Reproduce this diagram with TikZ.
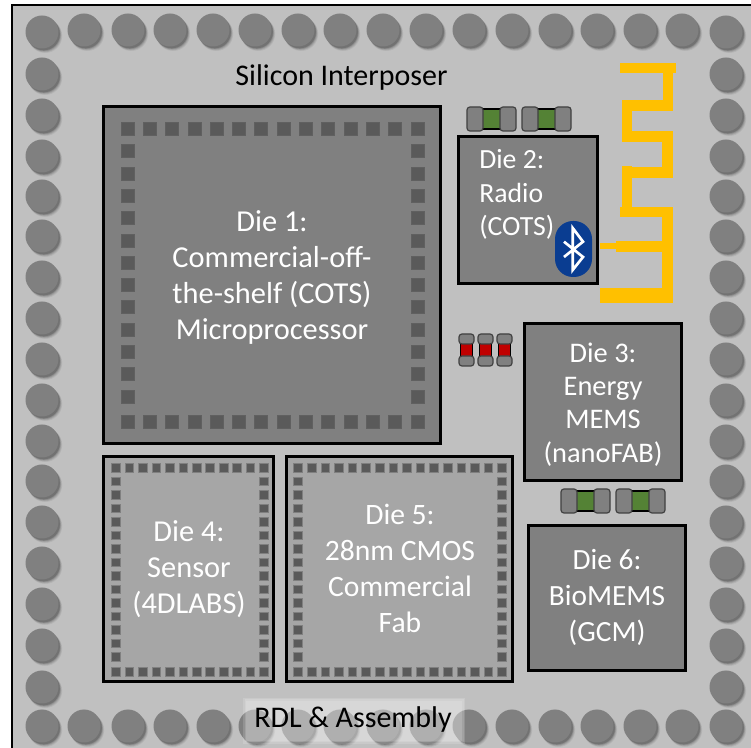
\documentclass[tikz,border=0pt]{standalone}
\usepackage{fontspec}
\setmainfont{Carlito}
\definecolor{substrate}{HTML}{C0C0C0}
\definecolor{bump}{HTML}{808080}
\definecolor{dark}{HTML}{808080}
\definecolor{light}{HTML}{A6A6A6}
\definecolor{padc}{HTML}{5A5A5A}
\definecolor{ant}{HTML}{FFC000}
\definecolor{btblue}{HTML}{0A3D91}
\definecolor{capgreen}{HTML}{548235}
\definecolor{capred}{HTML}{C00000}
\tikzset{
  diebox/.style={draw=black,line width=1.9pt},
  pad/.style={fill=padc,draw=#1,line width=.6pt},
  dietext/.style={text=white,align=center,inner sep=0pt,font=\fontsize{22.8}{27}\selectfont},
  captext/.style={text=black,inner sep=0pt,font=\fontsize{22.5}{24}\selectfont},
  capend/.style={fill=bump,draw=black!75,line width=.9pt,rounded corners=2.2pt},
  capmid/.style={draw=black,line width=.8pt}
}
\newcommand{\bumpat}[2]{%
  \foreach \dd/\rr/\op in {4/17/.05,3.5/16.8/.07,3/16.6/.09,2.5/16.4/.12,2/16.3/.15}{\fill[black,opacity=\op] (#1+\dd*.8,#2+\dd) circle[radius=\rr];}
  \fill[bump] (#1,#2) circle[radius=16.5];}
\newcommand{\padsq}[4]{\filldraw[pad=#4] (#1-#3,#2-#3) rectangle (#1+#3,#2+#3);}
\newcommand{\padring}[9]{%
  \foreach \i in {0,...,#3}{\padsq{#1+#2*\i}{#4}{#8}{#9}\padsq{#1+#2*\i}{#5}{#8}{#9}}
  \foreach \j in {1,...,#7}{\padsq{#1}{#4+#6*\j}{#8}{#9}\padsq{#1+#2*#3}{#4+#6*\j}{#8}{#9}}}
\newcommand{\hcap}[3]{%
  \filldraw[capmid,fill=capgreen] (#1+15,#2+2) rectangle (#1+34,#2+22);
  \filldraw[capend] (#1,#2) rectangle (#1+16,#2+24);
  \filldraw[capend] (#1+33,#2) rectangle (#1+49,#2+24);}
\newcommand{\vcap}[2]{%
  \filldraw[capmid,fill=capred] (#1+1.5,#2+9) rectangle (#1+13.5,#2+23);
  \filldraw[capend] (#1,#2) rectangle (#1+15,#2+10);
  \filldraw[capend] (#1,#2+22) rectangle (#1+15,#2+32);}
\begin{document}
\begin{tikzpicture}[x=0.75pt,y=-0.75pt]
\useasboundingbox (0,0) rectangle (751,748);
\clip (0,0) rectangle (751,748);
\fill[white] (0,0) rectangle (751,748);
\filldraw[fill=substrate,draw=black,line width=1.9pt] (12,5) rectangle (770,770);
% bumps
\foreach \x/\y in {42/32,84/30,128/30,170/30,213/30,255/30,298/30,340/30,383/30,426/30,469/30,512/30,555/30,597/30,640/30,682/30,726/32}{\bumpat{\x}{\y}}
\foreach \y in {74,115,156,196,236,277,318,359,400,441,481,522,563,604,645,687}{\bumpat{42}{\y}\bumpat{726}{\y}}
\foreach \x in {42,84,128,170,213,255,298,340,383,426,469,512,555,597,640,682,726}{\bumpat{\x}{726}}
% RDL label backing
\foreach \d in {0,1.5,3}{\fill[white,opacity=.15] (243+\d,698+\d) rectangle (465-\d,744-\d);}
% dies
\node[diebox,fill=dark,minimum width=252.5pt,minimum height=252.5pt,inner sep=0pt] (die1) at (272,275) {};
\node[diebox,fill=light,minimum width=127.5pt,minimum height=168.5pt,inner sep=0pt] (die4) at (188.5,569) {};
\node[diebox,fill=light,minimum width=169.5pt,minimum height=168.5pt,inner sep=0pt] (die5) at (399.5,569) {};
\node[diebox,fill=dark,minimum width=104pt,minimum height=110pt,inner sep=0pt] (die2) at (528,210) {};
\node[diebox,fill=dark,minimum width=117.5pt,minimum height=117.5pt,inner sep=0pt] (die3) at (603,402) {};
\node[diebox,fill=dark,minimum width=117.5pt,minimum height=108.5pt,inner sep=0pt] (die6) at (607,598) {};
% pads
\padring{127.5}{22.3}{13}{129}{422}{22.3}{12}{6.5}{padc!85!bump}
\padring{116}{13.45}{11}{468}{672}{13.5}{14}{4.3}{bump}
\padring{298}{13.6}{15}{468}{672}{13.5}{14}{4.3}{bump}
% antenna
\fill[ant] (620,63) rectangle (676,73);
\fill[ant] (663,63) rectangle (673,111);
\fill[ant] (622,100) rectangle (673,111);
\fill[ant] (622,100) rectangle (632,142);
\fill[ant] (622,131) rectangle (673,142);
\fill[ant] (662,131) rectangle (673,178);
\fill[ant] (622,167) rectangle (673,178);
\fill[ant] (622,166) rectangle (632,217);
\fill[ant] (620,207) rectangle (673,217);
\fill[ant] (662,207) rectangle (673,303);
\fill[ant] (600,288) rectangle (673,303);
\fill[ant] (616,241) rectangle (662,252);
\fill[ant] (600,243) rectangle (617,249);
% bluetooth
\fill[btblue,rounded corners=13.5pt] (555,221) rectangle (592,277);
\draw[white,line width=2pt,line join=miter] (564,241.7) -- (583,257) -- (572.7,270) -- (572.7,228) -- (583,241.7) -- (564,257);
% capacitors
\hcap{467}{107}{}
\hcap{522}{107}{}
\hcap{561}{489}{}
\hcap{616}{489}{}
\vcap{459}{334}
\vcap{478}{334}
\vcap{497}{334}
% texts
\node[captext] (silicon) at (341.5,77.5) {Silicon Interposer};
\node[captext] (rdl) at (353,720) {RDL \& Assembly};
\node[dietext] (t1) at (272,277) {Die 1:\\Commercial-off-\\the-shelf (COTS)\\Microprocessor};
\node[dietext,align=left,anchor=west,font=\fontsize{20.8}{25}\selectfont] (t2) at (479,194.5) {Die 2:\\Radio\\(COTS)};
\node[dietext,font=\fontsize{21.3}{25}\selectfont] (t3) at (603,404.5) {Die 3:\\Energy\\MEMS\\(nanoFAB)};
\node[dietext] (t4) at (189,569) {Die 4:\\Sensor\\(4DLABS)};
\node[dietext,font=\fontsize{22.2}{27}\selectfont] (t5) at (400,568.5) {Die 5:\\28nm CMOS\\Commercial\\Fab};
\node[dietext,font=\fontsize{22}{27}\selectfont] (t6) at (607,597.5) {Die 6:\\BioMEMS\\(GCM)};
\end{tikzpicture}
\end{document}
